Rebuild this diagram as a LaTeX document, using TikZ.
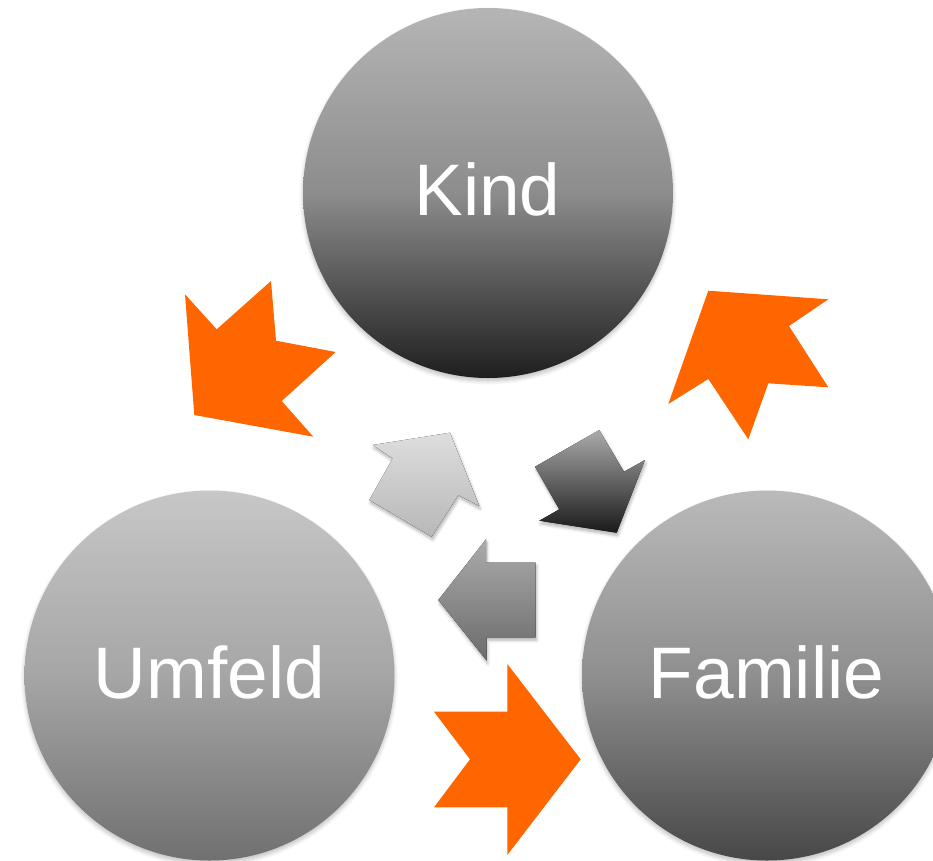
\documentclass[tikz,border=0pt]{standalone}
\usepackage{fontspec}
\setmainfont{Liberation Sans}
\usetikzlibrary{shadows.blur}
\definecolor{orangeA}{HTML}{FF6600}
\begin{document}
\begin{tikzpicture}[x=1pt,y=-1pt,
  ball/.style={circle, minimum size=370pt, inner sep=0pt, draw=none,
    blur shadow={shadow xshift=0pt, shadow yshift=-3pt, shadow opacity=25, shadow blur steps=6, shadow blur radius=4pt}},
  lbl/.style={anchor=base, inner sep=0pt, text=white, font=\fontsize{73}{80}\selectfont},
  orangearrow/.style={fill=orangeA},
  grayarrow/.style={blur shadow={shadow xshift=1pt, shadow yshift=-3pt, shadow opacity=30, shadow blur steps=5, shadow blur radius=3pt}}
]
\useasboundingbox (0,0) rectangle (933,860);

% circles
\node[ball, top color=black!29, bottom color=black!88, middle color=black!45] (kind) at (488,193) {};
\node[ball, top color=black!22, bottom color=black!56, middle color=black!35] (umfeld) at (209.5,675.5) {};
\node[ball, top color=black!27, bottom color=black!72, middle color=black!44] (familie) at (767,675.5) {};

% labels
\node[lbl] (kindtxt) at (487.5,215) {Kind};
\node[lbl] (umfeldtxt) at (209.5,698) {Umfeld};
\node[lbl] (familietxt) at (766.5,698) {Familie};

% orange notched arrows
\fill[orangearrow] (185,294.3) -- (216.7,329.3) -- (271,281) -- (276,340.7) -- (335.7,352)
  -- (281.7,401) -- (313.3,436.7) -- (194.3,415) -- cycle;
\fill[orangearrow] (708.3,290.7) -- (828.3,299.3) -- (789,326) -- (828.3,387.3) -- (768.3,383.3)
  -- (748.3,439.3) -- (708.3,379) -- (668.3,404) -- cycle;
\fill[orangearrow] (434,711.7) -- (507.3,711.7) -- (507.3,664) -- (580.7,759.3) -- (507.3,855)
  -- (507.3,807.3) -- (434,807.3) -- (470,759.3) -- cycle;

% gray arrows
\fill[grayarrow, top color=black!13, bottom color=black!28]
  (372.7,445) -- (450,432.7) -- (479.3,506) -- (458.3,495) -- (431.7,536.7) -- (369.3,500) -- (392.7,458.3) -- cycle;
\fill[grayarrow, top color=black!33, bottom color=black!90]
  (535,466.7) -- (599.3,430) -- (624,471.7) -- (645,460) -- (616.7,532.7) -- (539.3,520.7) -- (559.3,509.3) -- cycle;
\fill[grayarrow, top color=black!33, bottom color=black!58]
  (486,539.3) -- (486,562.7) -- (535.7,562.7) -- (535.7,637.3) -- (486.7,637.3) -- (486.7,660.7) -- (438.3,600) -- cycle;
\end{tikzpicture}
\end{document}
